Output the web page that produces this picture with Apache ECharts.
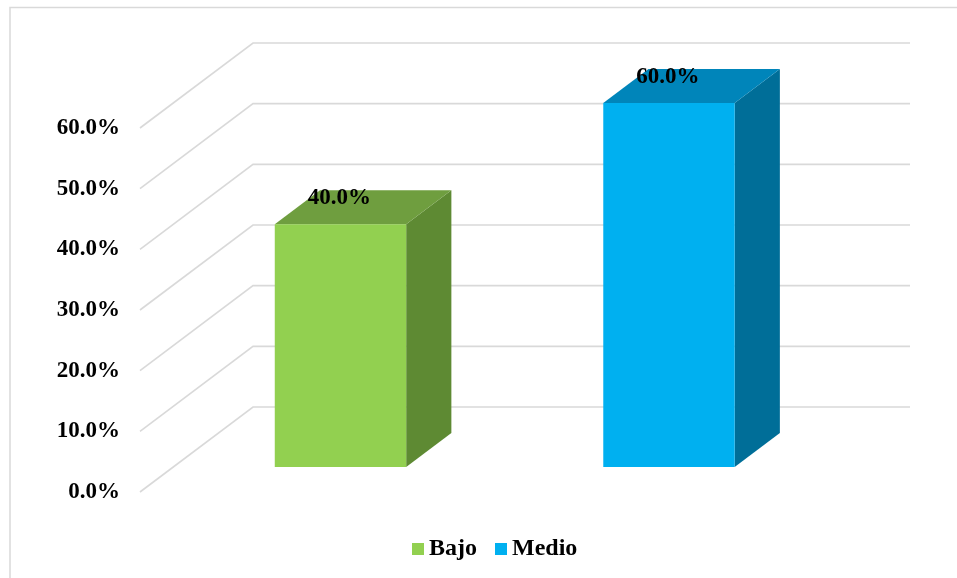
<!DOCTYPE html>
<html>
<head>
<meta charset="utf-8">
<style>
  html, body { margin: 0; padding: 0; background: #ffffff; }
  #chart { width: 957px; height: 578px; }
</style>
<script src="https://cdn.jsdelivr.net/npm/echarts@6/dist/echarts.min.js"></script>
</head>
<body>
<div id="chart"></div>
<script>
// Chart data
var categories = ['Bajo', 'Medio'];
var values = [40, 60];
var yTicks = [0, 10, 20, 30, 40, 50, 60];

// Oblique depth of the box (back wall offset) and bar depth band
var DEPTH_X = 113;
var DEPTH_Y = 85;
var BAR_FRONT = 0.294;
var BAR_BACK = 0.694;
var BAR_WIDTH_RATIO = 0.40;

var palettes = [
  { front: '#92D050', top: '#6F9E3F', side: '#5E8A33' },
  { front: '#00B0F0', top: '#0085BA', side: '#006E98' }
];

var chart = echarts.init(document.getElementById('chart'), null, { renderer: 'canvas' });

function renderWall(params, api) {
  var cs = params.coordSys;
  var y = api.coord([0, api.value(1)])[1];
  var x0 = cs.x;
  return {
    type: 'polyline',
    silent: true,
    shape: {
      points: [
        [x0, y],
        [x0 + DEPTH_X, y - DEPTH_Y],
        [x0 + cs.width + DEPTH_X, y - DEPTH_Y]
      ]
    },
    style: { stroke: '#D9D9D9', lineWidth: 1.6, fill: null }
  };
}

function makeBarRenderer(pal) {
  return function (params, api) {
    var idx = api.value(0);
    var val = api.value(1);
    var base = api.coord([idx, 0]);
    var top = api.coord([idx, val]);
    var band = api.size([1, 0])[0];
    var w = band * BAR_WIDTH_RATIO;
    var fx = BAR_FRONT * DEPTH_X, fy = BAR_FRONT * DEPTH_Y;
    var bx = BAR_BACK * DEPTH_X, by = BAR_BACK * DEPTH_Y;
    var left = base[0] - w / 2 + fx + 3;
    var right = left + w;
    var yb = base[1] - fy;
    var yt = top[1] - fy;
    var dx = bx - fx, dy = by - fy;
    return {
      type: 'group',
      children: [
        {
          type: 'polygon',
          shape: { points: [[right, yb], [right + dx, yb - dy], [right + dx, yt - dy], [right, yt]] },
          style: { fill: pal.side }
        },
        {
          type: 'polygon',
          shape: { points: [[left, yt], [right, yt], [right + dx, yt - dy], [left + dx, yt - dy]] },
          style: { fill: pal.top }
        },
        {
          type: 'rect',
          shape: { x: left, y: yt, width: w, height: yb - yt },
          style: { fill: pal.front }
        },
        {
          type: 'text',
          style: {
            text: val.toFixed(1) + '%',
            x: (left + right) / 2 - 1,
            y: yt - 26,
            align: 'center',
            verticalAlign: 'middle',
            fontFamily: '"Liberation Serif", "Times New Roman", serif',
            fontWeight: 'bold',
            fontSize: 23,
            fill: '#000000'
          }
        }
      ]
    };
  };
}

var wallData = yTicks.map(function (v) { return [0, v]; });

var barSeries = categories.map(function (name, i) {
  return {
    name: name,
    type: 'custom',
    renderItem: makeBarRenderer(palettes[i]),
    itemStyle: { color: palettes[i].front },
    encode: { x: 0, y: 1 },
    data: [[i, values[i]]],
    z: 3
  };
});

var option = {
  animation: false,
  backgroundColor: '#ffffff',
  graphic: [
    {
      type: 'polyline',
      silent: true,
      shape: { points: [[10, 578], [10, 7.5], [957, 7.5]] },
      style: { stroke: '#D9D9D9', lineWidth: 1.5, fill: null }
    }
  ],
  grid: { left: 140, right: 160, top: 128, bottom: 86 },
  xAxis: {
    type: 'category',
    data: categories,
    axisLine: { show: false },
    axisTick: { show: false },
    axisLabel: { show: false },
    splitLine: { show: false }
  },
  yAxis: {
    type: 'value',
    min: 0,
    max: 60,
    interval: 10,
    axisLine: { show: false },
    axisTick: { show: false },
    splitLine: { show: false },
    axisLabel: {
      margin: 20,
      color: '#000000',
      fontFamily: '"Liberation Serif", "Times New Roman", serif',
      fontWeight: 'bold',
      fontSize: 23,
      formatter: function (v) { return v.toFixed(1) + '%'; }
    }
  },
  legend: {
    data: categories.map(function (name, i) {
      return { name: name, icon: 'rect', itemStyle: { color: palettes[i].front } };
    }),
    left: 407,
    top: 532,
    itemWidth: 12,
    itemHeight: 12,
    itemGap: 18,
    textStyle: {
      color: '#000000',
      fontFamily: '"Liberation Serif", "Times New Roman", serif',
      fontWeight: 'bold',
      fontSize: 24
    },
    selectedMode: false
  },
  series: [
    {
      name: 'walls',
      type: 'custom',
      silent: true,
      renderItem: renderWall,
      encode: { x: 0, y: 1 },
      data: wallData,
      z: 1
    }
  ].concat(barSeries)
};

chart.setOption(option);
</script>
</body>
</html>
